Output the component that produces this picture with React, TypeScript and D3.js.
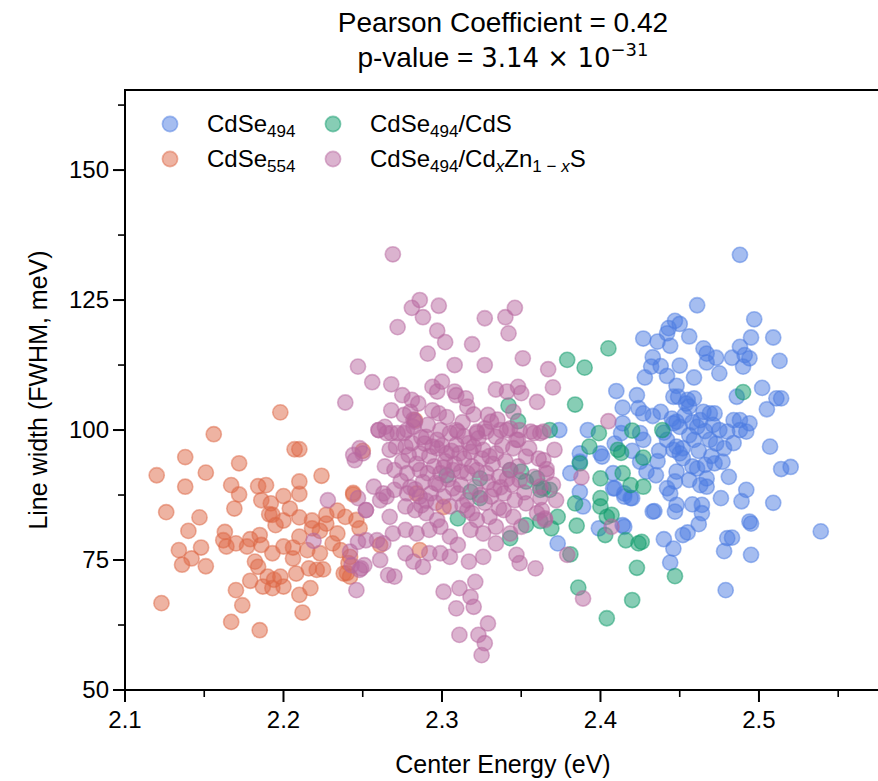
import React from "react";
import * as d3 from "d3";

const W = 878;
const H = 781;

const xDomain = [2.1, 2.577];
const yDomain = [50, 165.4];
const xTicks = [2.1, 2.2, 2.3, 2.4, 2.5];
const xMinorTicks = [2.15, 2.25, 2.35, 2.45, 2.55];
const yTicks = [50, 75, 100, 125, 150];
const yMinorTicks = [62.5, 87.5, 112.5, 137.5, 162.5];

const titleLine1 = "Pearson Coefficient = 0.42";
const xLabel = "Center Energy (eV)";
const yLabel = "Line width (FWHM, meV)";

const seriesColors = ["#4b7be1", "#dd6745", "#0f9b6b", "#b7679f"];

// CdSe494
const cdse494: [number, number][] = [
  [2.488,133.7],[2.461,124.0],[2.497,121.3],[2.447,121.0],[2.450,120.4],[2.443,119.6],[2.442,118.6],[2.456,118.0],[2.427,117.6],[2.436,117.0],
  [2.444,116.2],[2.495,117.8],[2.509,117.8],[2.465,115.7],[2.467,114.7],[2.473,113.9],[2.483,113.9],[2.488,116.0],[2.491,114.4],[2.494,113.8],
  [2.490,112.2],[2.513,113.3],[2.433,114.0],[2.432,112.2],[2.438,112.3],[2.450,112.4],[2.467,113.0],[2.428,110.1],[2.442,110.4],[2.459,110.1],
  [2.475,110.9],[2.448,108.5],[2.410,107.5],[2.423,106.7],[2.502,108.1],[2.446,106.4],[2.449,106.4],[2.455,105.8],[2.459,106.1],[2.486,106.4],
  [2.511,106.1],[2.514,106.1],[2.505,104.0],[2.414,104.3],[2.424,104.2],[2.427,103.2],[2.433,102.7],[2.445,102.2],[2.448,101.6],[2.454,105.1],
  [2.456,104.5],[2.465,103.5],[2.469,103.2],[2.472,103.2],[2.463,101.9],[2.461,100.6],[2.484,101.9],[2.488,101.9],[2.494,101.3],[2.475,100.0],
  [2.480,99.7],[2.488,100.0],[2.492,99.7],[2.507,96.8],[2.414,101.3],[2.413,99.4],[2.425,99.4],[2.427,98.1],[2.446,101.3],[2.450,100.6],
  [2.442,98.1],[2.448,96.8],[2.452,96.5],[2.459,98.1],[2.469,98.1],[2.473,97.4],[2.409,97.4],[2.400,95.5],[2.374,100.0],[2.392,100.0],
  [2.387,95.5],[2.381,91.7],[2.387,88.1],[2.389,85.3],[2.373,78.2],[2.401,94.9],[2.408,91.7],[2.409,88.8],[2.415,87.8],[2.419,86.9],
  [2.414,81.7],[2.399,81.1],[2.514,92.5],[2.520,92.9],[2.481,91.0],[2.476,86.9],[2.492,88.5],[2.489,86.3],[2.509,86.0],[2.494,82.4],
  [2.495,82.0],[2.539,80.5],[2.480,79.2],[2.483,79.3],[2.478,76.7],[2.495,76.0],[2.479,69.2],[2.434,84.4],[2.433,84.3],[2.448,85.6],
  [2.447,84.3],[2.458,85.7],[2.464,85.6],[2.464,84.0],[2.462,81.9],[2.440,79.0],[2.446,77.2],[2.444,74.5],[2.452,79.8],[2.455,80.3],
  [2.442,88.8],[2.444,87.8],[2.447,90.1],[2.456,90.4],[2.463,89.4],[2.467,89.1],[2.467,90.7],[2.461,92.6],[2.466,93.3],[2.472,93.6],
  [2.477,93.9],[2.408,88.8],[2.415,87.2],[2.420,86.9],[2.435,91.3],[2.429,92.0],[2.425,93.9],[2.448,92.0],[2.452,94.6],[2.415,81.4],
  [2.446,96.2],[2.450,95.5],[2.387,93.9],[2.437,96.0],[2.440,99.5],[2.456,99.0],[2.462,96.0],[2.470,95.0],[2.478,96.5],[2.484,97.5],
  [2.436,94.0],[2.458,93.0],[2.420,96.0],[2.453,102.8],[2.458,101.5],[2.466,99.8],[2.438,103.5],[2.471,101.0],
];

// CdSe554
const cdse554: [number, number][] = [
  [2.198,103.4],[2.156,99.2],[2.138,94.8],[2.120,91.3],[2.151,91.8],[2.172,93.6],[2.138,89.1],[2.207,96.3],[2.210,96.3],[2.126,84.2],
  [2.147,83.2],[2.140,80.6],[2.167,89.4],[2.172,87.6],[2.169,84.9],[2.184,89.2],[2.189,89.4],[2.186,86.5],[2.192,85.9],[2.191,83.8],
  [2.193,83.7],[2.200,87.3],[2.204,84.9],[2.210,90.1],[2.210,87.7],[2.224,91.2],[2.195,81.7],[2.200,82.6],[2.210,83.2],[2.218,82.6],
  [2.227,82.0],[2.234,84.5],[2.244,87.6],[2.246,82.7],[2.248,81.1],[2.250,96.0],[2.163,80.4],[2.134,76.9],[2.148,77.4],[2.142,75.3],
  [2.136,74.1],[2.151,73.8],[2.162,78.8],[2.164,77.6],[2.170,78.2],[2.179,79.0],[2.177,77.6],[2.185,79.8],[2.186,77.9],[2.182,74.7],
  [2.184,73.7],[2.193,76.3],[2.190,71.8],[2.194,71.2],[2.187,69.9],[2.193,69.6],[2.200,69.9],[2.198,71.8],[2.179,71.0],[2.170,69.2],
  [2.174,66.3],[2.167,63.1],[2.185,61.5],[2.123,66.7],[2.212,64.9],[2.210,68.3],[2.217,69.6],[2.206,75.3],[2.208,72.4],[2.216,73.4],
  [2.221,73.1],[2.225,73.2],[2.223,76.3],[2.215,76.9],[2.218,81.1],[2.210,79.5],[2.200,77.6],[2.206,77.4],[2.231,78.2],[2.236,76.9],
  [2.238,72.4],[2.242,71.8],[2.234,80.1],[2.227,83.7],[2.223,80.6],[2.241,74.4],[2.244,87.9],[2.239,83.3],[2.242,75.6],[2.240,72.5],
  [2.283,101.9],[2.284,87.8],[2.301,85.2],[2.286,76.9],[2.261,77.9],
];

// CdSe494/CdS
const cdse494Cds: [number, number][] = [
  [2.405,115.7],[2.379,113.5],[2.390,112.0],[2.384,104.9],[2.490,107.3],[2.368,100.0],[2.399,99.4],[2.393,96.8],[2.420,99.9],[2.439,100.0],
  [2.411,96.2],[2.413,95.6],[2.427,94.7],[2.387,93.6],[2.400,90.7],[2.414,91.7],[2.419,89.4],[2.427,89.1],[2.362,88.5],[2.384,85.9],
  [2.400,86.9],[2.400,85.3],[2.404,83.3],[2.407,83.7],[2.403,79.8],[2.373,83.3],[2.369,81.1],[2.385,81.6],[2.416,78.8],[2.424,78.2],
  [2.426,78.5],[2.423,73.5],[2.447,71.9],[2.386,69.7],[2.420,67.3],[2.404,63.8],[2.343,79.2],[2.362,82.5],[2.353,81.7],[2.381,76.1],
  [2.310,83.0],[2.318,88.1],[2.324,86.9],[2.343,92.3],[2.350,92.0],[2.353,90.1],[2.360,90.7],[2.364,88.8],[2.368,88.5],[2.324,90.7],
  [2.303,91.3],[2.342,104.7],[2.348,101.7],
];

// CdSe494/CdxZn1-xS
const cdse494CdZnS: [number, number][] = [
  [2.269,133.8],[2.286,125.0],[2.281,123.5],[2.288,121.7],[2.298,123.9],[2.272,119.8],[2.297,119.1],[2.302,116.9],[2.291,114.7],[2.319,116.5],
  [2.308,112.5],[2.327,121.5],[2.340,121.7],[2.346,123.5],[2.342,118.6],[2.327,112.5],[2.351,113.8],[2.367,111.7],[2.370,108.2],[2.360,105.4],
  [2.256,109.2],[2.268,108.8],[2.275,106.7],[2.281,105.8],[2.285,105.1],[2.294,108.3],[2.297,107.4],[2.300,109.3],[2.308,107.4],[2.309,106.7],
  [2.315,106.1],[2.316,104.5],[2.334,107.8],[2.341,107.4],[2.348,108.3],[2.350,107.1],[2.268,103.8],[2.276,102.9],[2.280,103.5],[2.294,103.8],
  [2.298,103.2],[2.329,102.9],[2.331,101.6],[2.260,100.0],[2.264,100.6],[2.268,99.4],[2.276,99.4],[2.283,101.6],[2.282,100.6],[2.299,100.0],
  [2.309,100.0],[2.322,99.7],[2.327,100.3],[2.337,100.0],[2.343,100.3],[2.349,100.0],[2.356,99.7],[2.362,99.4],[2.371,96.2],[2.348,98.1],
  [2.247,112.2],[2.239,105.3],[2.250,95.5],[2.245,94.2],[2.257,89.1],[2.252,84.6],[2.261,86.5],[2.265,87.2],[2.259,78.8],[2.263,78.2],
  [2.261,75.0],[2.266,72.1],[2.270,71.8],[2.246,69.2],[2.248,73.1],[2.251,74.0],[2.277,76.3],[2.282,74.7],[2.288,73.7],[2.292,76.3],
  [2.299,76.3],[2.305,75.6],[2.310,77.9],[2.317,74.7],[2.326,75.6],[2.321,70.8],[2.318,67.9],[2.311,69.6],[2.309,65.7],[2.320,66.0],
  [2.329,62.8],[2.323,60.6],[2.327,59.0],[2.311,60.6],[2.325,56.7],[2.301,68.9],[2.334,78.2],[2.347,76.0],[2.349,74.4],[2.359,73.4],
  [2.372,86.5],[2.365,83.0],[2.379,76.0],[2.389,67.6],
  [2.260,100.0],[2.265,99.4],[2.272,99.4],[2.278,100.0],[2.290,98.7],[2.297,98.1],[2.305,99.4],[2.310,99.7],[2.322,99.4],[2.328,99.7],
  [2.334,98.7],[2.341,100.0],[2.347,98.1],[2.358,99.4],[2.364,99.7],
  [2.267,96.2],[2.277,96.8],[2.286,95.5],[2.289,97.4],[2.297,96.5],[2.303,95.5],[2.311,95.5],[2.320,96.8],[2.326,96.2],[2.334,95.5],
  [2.345,96.5],[2.353,94.9],[2.361,94.5],
  [2.264,93.0],[2.270,92.3],[2.278,91.7],[2.286,92.3],[2.291,91.7],[2.299,91.7],[2.307,92.3],[2.316,91.7],[2.322,92.3],[2.328,91.7],
  [2.336,91.0],[2.343,92.3],[2.349,90.4],[2.358,91.0],
  [2.263,87.8],[2.270,88.5],[2.278,87.8],[2.286,87.2],[2.293,87.8],[2.301,87.2],[2.310,87.8],[2.316,86.5],[2.324,87.5],[2.331,87.2],
  [2.339,87.8],[2.346,86.5],[2.353,85.9],
  [2.267,83.3],[2.277,85.3],[2.283,84.6],[2.290,84.0],[2.297,82.7],[2.305,85.3],[2.316,84.6],[2.322,82.7],[2.330,83.3],[2.339,84.6],
  [2.345,83.3],[2.360,84.0],
  [2.269,80.1],[2.277,80.8],[2.284,80.1],[2.292,80.8],[2.299,81.4],[2.305,79.5],[2.318,80.8],[2.326,80.1],[2.334,81.4],[2.343,80.1],
  [2.350,81.4],
  [2.275,94.0],[2.281,97.5],[2.284,93.5],[2.288,90.0],[2.292,95.0],[2.295,93.0],[2.298,89.5],[2.300,97.0],[2.302,94.0],[2.304,90.5],
  [2.306,96.0],[2.308,93.5],[2.312,89.5],[2.314,94.5],[2.317,97.5],[2.319,93.0],[2.321,89.0],[2.325,94.5],[2.329,90.0],[2.332,93.5],
  [2.337,89.0],[2.340,94.0],[2.344,89.5],[2.348,93.0],[2.352,88.0],[2.280,89.0],[2.287,85.5],[2.296,86.0],[2.313,85.5],[2.327,86.0],
  [2.336,85.0],[2.282,102.0],[2.291,101.0],[2.303,102.5],[2.313,101.5],[2.320,103.0],[2.335,102.0],[2.345,103.5],[2.355,96.5],[2.366,92.5],
  [2.370,89.5],[2.362,87.0],
  [2.405,101.7],[2.364,94.2],[2.366,91.7],[2.362,89.1],[2.388,90.9],[2.363,84.6],[2.365,82.7],[2.407,81.4],[2.248,96.5],[2.244,95.2],
  [2.228,86.5],[2.247,86.9],[2.252,84.6],[2.219,78.7],[2.242,76.6],[2.247,78.5],[2.252,78.8],[2.243,74.0],[2.249,73.4],
  [2.279,95.2],[2.287,98.6],[2.294,96.8],[2.301,92.8],[2.309,97.2],[2.312,92.0],[2.318,95.8],[2.323,98.4],[2.330,95.0],[2.338,97.0],
  [2.283,88.6],[2.290,86.4],[2.307,88.8],[2.319,84.0],[2.333,88.6],[2.341,90.6],[2.274,90.2],[2.296,89.8],[2.314,98.8],[2.271,96.8],
];

const seriesData = [cdse494, cdse554, cdse494Cds, cdse494CdZnS];

const FONT = "'Liberation Sans', Arial, Helvetica, sans-serif";
const MATH_FONT = "'DejaVu Sans', sans-serif";

export default function App() {
  const left = 125, right = 881, top = 90, bottom = 690;
  const x = d3.scaleLinear().domain(xDomain).range([left, right]);
  const y = d3.scaleLinear().domain(yDomain).range([bottom, top]);
  const fmtX = d3.format(".1f");
  const r = 7.6;
  const fs = 24;
  const labelFs = 25;
  const titleFs = 28;
  const subFs = 17;

  const legendItems = [
    { col: 0, row: 0, color: seriesColors[0], label: (
      <>CdSe<tspan fontSize={subFs} dy={5}>494</tspan></>
    ) },
    { col: 0, row: 1, color: seriesColors[1], label: (
      <>CdSe<tspan fontSize={subFs} dy={5}>554</tspan></>
    ) },
    { col: 1, row: 0, color: seriesColors[2], label: (
      <>CdSe<tspan fontSize={subFs} dy={5}>494</tspan><tspan dy={-5}>/CdS</tspan></>
    ) },
    { col: 1, row: 1, color: seriesColors[3], label: (
      <>CdSe<tspan fontSize={subFs} dy={5}>494</tspan><tspan dy={-5}>/Cd</tspan><tspan fontSize={subFs} dy={5} fontStyle="italic">x</tspan><tspan dy={-5}>Zn</tspan><tspan fontSize={subFs} dy={5}>1 − </tspan><tspan fontSize={subFs} fontStyle="italic">x</tspan><tspan dy={-5}>S</tspan></>
    ) },
  ];
  const legX = [170, 333];
  const legY = [124, 159];

  return (
    <svg width={W} height={H} viewBox={`0 0 ${W} ${H}`} style={{ position: "absolute", left: 0, top: 0, background: "#fff" }} fontFamily={FONT}>
      <rect x={0} y={0} width={W} height={H} fill="#fff" />
      <defs>
        <clipPath id="plotclip">
          <rect x={left} y={top} width={right - left} height={bottom - top} />
        </clipPath>
      </defs>
      <g clipPath="url(#plotclip)">
        {seriesData.map((pts, si) => (
          <g key={si}>
            {pts.map((p, i) => (
              <circle key={i} cx={x(p[0])} cy={y(p[1])} r={r} fill={seriesColors[si]} fillOpacity={0.5}
                stroke={seriesColors[si]} strokeOpacity={0.5} strokeWidth={1.6} />
            ))}
          </g>
        ))}
      </g>
      <line x1={left} x2={left} y1={top} y2={bottom + 1} stroke="#000" strokeWidth={2} />
      <line x1={left - 1} x2={right} y1={bottom} y2={bottom} stroke="#000" strokeWidth={2} />
      <line x1={left - 1} x2={right} y1={top} y2={top} stroke="#000" strokeWidth={2} />
      {xTicks.map((t) => (
        <g key={"xt" + t}>
          <line x1={x(t)} x2={x(t)} y1={bottom} y2={bottom + 12} stroke="#000" strokeWidth={2} />
          <text x={x(t)} y={bottom + 38} textAnchor="middle" fontSize={fs} fill="#000">{fmtX(t)}</text>
        </g>
      ))}
      {xMinorTicks.map((t) => (
        <line key={"xm" + t} x1={x(t)} x2={x(t)} y1={bottom} y2={bottom + 7} stroke="#000" strokeWidth={1.6} />
      ))}
      {yTicks.map((t) => (
        <g key={"yt" + t}>
          <line x1={left - 12} x2={left} y1={y(t)} y2={y(t)} stroke="#000" strokeWidth={2} />
          <text x={left - 16} y={y(t)} dy="0.35em" textAnchor="end" fontSize={fs} fill="#000">{t}</text>
        </g>
      ))}
      {yMinorTicks.map((t) => (
        <line key={"ym" + t} x1={left - 7} x2={left} y1={y(t)} y2={y(t)} stroke="#000" strokeWidth={1.6} />
      ))}
      <text x={(left + right) / 2} y={773} textAnchor="middle" fontSize={labelFs} fill="#000">{xLabel}</text>
      <text transform={`translate(47, ${(top + bottom) / 2}) rotate(-90)`} textAnchor="middle" fontSize={labelFs} fill="#000">{yLabel}</text>
      <text x={(left + right) / 2} y={32} textAnchor="middle" fontSize={titleFs} fill="#000">{titleLine1}</text>
      <text x={(left + right) / 2} y={67} textAnchor="middle" fontSize={titleFs} fill="#000">
        p-value = <tspan fontFamily={MATH_FONT} fontSize={26}>3.14 × 10</tspan><tspan fontFamily={MATH_FONT} fontSize={18} dy={-11}>−31</tspan>
      </text>
      {legendItems.map((it, i) => (
        <g key={"lg" + i}>
          <circle cx={legX[it.col]} cy={legY[it.row]} r={r} fill={it.color} fillOpacity={0.5} stroke={it.color} strokeOpacity={0.5} strokeWidth={1.6} />
          <text x={legX[it.col] + 37} y={legY[it.row] + 8} fontSize={fs} fill="#000">{it.label}</text>
        </g>
      ))}
    </svg>
  );
}
